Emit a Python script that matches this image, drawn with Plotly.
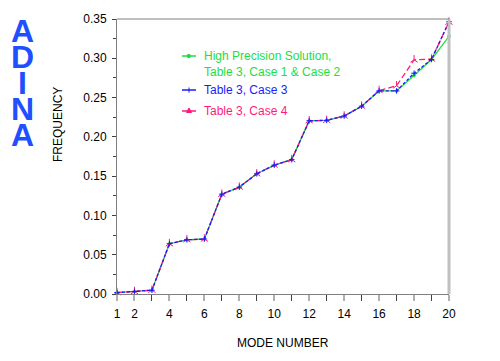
import plotly.graph_objects as go

mode = list(range(1, 21))
high_precision = [0.0018, 0.0031, 0.0048, 0.064, 0.069, 0.070, 0.127, 0.136, 0.153, 0.164,
                  0.171, 0.2205, 0.221, 0.2265, 0.239, 0.2585, 0.2585, 0.278, 0.2985, 0.328]
case3 = [0.0018, 0.0031, 0.0048, 0.064, 0.069, 0.070, 0.127, 0.136, 0.153, 0.164,
         0.171, 0.2205, 0.221, 0.2265, 0.239, 0.2585, 0.2585, 0.281, 0.2985, 0.3465]
case4 = [0.0018, 0.0031, 0.0048, 0.064, 0.069, 0.070, 0.127, 0.136, 0.153, 0.164,
         0.171, 0.2205, 0.221, 0.2265, 0.239, 0.259, 0.265, 0.298, 0.299, 0.346]

x_tickvals = [1, 2, 4, 6, 8, 10, 12, 14, 16, 18, 20]
y_tickvals = [0.0, 0.05, 0.10, 0.15, 0.20, 0.25, 0.30, 0.35]
y_ticktext = ["0.00", "0.05", "0.10", "0.15", "0.20", "0.25", "0.30", "0.35"]

GREEN = "#22dd44"
BLUE = "#1a1aff"
PINK = "#ff1a7a"
FONT = "Liberation Sans, Arial, sans-serif"

fig = go.Figure()
fig.add_trace(go.Scatter(x=mode, y=high_precision, mode="lines+markers",
                         line=dict(color=GREEN, width=1.3),
                         marker=dict(symbol="circle", size=3.5, color=GREEN),
                         cliponaxis=False, showlegend=False))
fig.add_trace(go.Scatter(x=mode, y=case4, mode="lines+markers",
                         line=dict(color=PINK, width=1.3, dash="6px,3px"),
                         marker=dict(symbol="y-up", size=6, line=dict(color=PINK, width=1)),
                         cliponaxis=False, showlegend=False))
fig.add_trace(go.Scatter(x=mode, y=case3, mode="lines+markers",
                         line=dict(color=BLUE, width=1.3, dash="3px,2px"),
                         marker=dict(symbol="cross-thin", size=4, line=dict(color=BLUE, width=1)),
                         cliponaxis=False, showlegend=False))

L, R, T, B = 117, 51, 19, 67
W, H = 500, 361
pw, ph = W - L - R, H - T - B

def px(xp):
    return (xp - L) / pw

def py(yp):
    return (H - B - yp) / ph

# legend (manual)
legend_items = [
    (56, GREEN, "solid", "circle", ["High Precision Solution,", "Table 3, Case 1 & Case 2"]),
    (90, BLUE, "dot", "cross", ["Table 3, Case 3"]),
    (111, PINK, "dash", "tri", ["Table 3, Case 4"]),
]
shapes = []
annotations = []
for yy, col, dash, sym, lines in legend_items:
    shapes.append(dict(type="line", xref="paper", yref="paper", x0=px(182), x1=px(196),
                       y0=py(yy), y1=py(yy), line=dict(color=col, width=1.5)))
    if sym == "circle":
        shapes.append(dict(type="circle", xref="paper", yref="paper",
                           x0=px(187), x1=px(190.5), y0=py(yy - 1.75), y1=py(yy + 1.75),
                           line=dict(color=col, width=1), fillcolor=col))
    elif sym == "cross":
        shapes.append(dict(type="line", xref="paper", yref="paper", x0=px(189), x1=px(189),
                           y0=py(yy - 2.5), y1=py(yy + 2.5), line=dict(color=col, width=1)))
    else:
        shapes.append(dict(type="path", xref="paper", yref="paper",
                           path="M %f,%f L %f,%f L %f,%f Z" % (px(186.5), py(yy + 1.5), px(191.5), py(yy + 1.5),
                                                              px(189), py(yy - 3)),
                           line=dict(color=col, width=1), fillcolor=col))
    for i, t in enumerate(lines):
        annotations.append(dict(text=t, xref="paper", yref="paper", x=px(202), y=py(yy + 16 * i),
                                xanchor="left", yanchor="middle", showarrow=False,
                                font=dict(family=FONT, size=12, color=col)))

# right border / top border
shapes.append(dict(type="line", xref="paper", yref="paper", x0=1, x1=1, y0=0, y1=1,
                   line=dict(color="#c0c0c0", width=3)))
shapes.append(dict(type="line", xref="paper", yref="paper", x0=0, x1=1, y0=1, y1=1,
                   line=dict(color="#808080", width=1)))

# ADINA logo: one text, small base size for tight line pitch, large glyphs via span
logo = "<br>".join("<span style='font-size:32px'><b>%s</b></span>" % c for c in "ADINA")
annotations.append(dict(text=logo, xref="paper", yref="paper",
                        x=px(22), y=py(83), xanchor="center", yanchor="middle",
                        showarrow=False,
                        font=dict(family=FONT, size=20, color="#1f4fff")))

annotations.append(dict(text="FREQUENCY", xref="paper", yref="paper", x=px(58), y=py(125),
                        textangle=-90, xanchor="center", yanchor="middle", showarrow=False,
                        font=dict(family=FONT, size=12, color="black")))
annotations.append(dict(text="MODE NUMBER", xref="paper", yref="paper", x=px(283), y=py(343),
                        xanchor="center", yanchor="middle", showarrow=False,
                        font=dict(family=FONT, size=12, color="black")))

fig.update_layout(
    width=W, height=H,
    margin=dict(l=L, r=R, t=T, b=B),
    paper_bgcolor="white", plot_bgcolor="white",
    showlegend=False,
    shapes=shapes, annotations=annotations,
    font=dict(family=FONT, size=12, color="black"),
    xaxis=dict(range=[1, 20], tickvals=x_tickvals, ticks="outside", ticklen=6,
               tickcolor="#b0b0b0", tickwidth=2, showgrid=False, zeroline=False,
               showline=True, linecolor="#808080", linewidth=1,
               ticklabelstandoff=3,
               minor=dict(tickvals=[3, 5, 7, 9, 11, 13, 15, 17, 19], ticks="outside",
                          ticklen=6, tickcolor="#404040", tickwidth=1),
               tickfont=dict(family=FONT, size=12, color="black")),
    yaxis=dict(range=[0, 0.35], tickvals=y_tickvals, ticktext=y_ticktext, ticks="outside",
               ticklen=4, tickcolor="#404040", tickwidth=1, showgrid=False, zeroline=False,
               showline=True, linecolor="#808080", linewidth=1,
               ticklabelstandoff=3,
               minor=dict(dtick=0.025, ticks="outside", ticklen=3, tickcolor="#404040"),
               tickfont=dict(family=FONT, size=12, color="black")),
)

fig.write_html("out.html", config={"displayModeBar": False},
               post_script="document.body.style.margin='0';document.body.style.padding='0';")
